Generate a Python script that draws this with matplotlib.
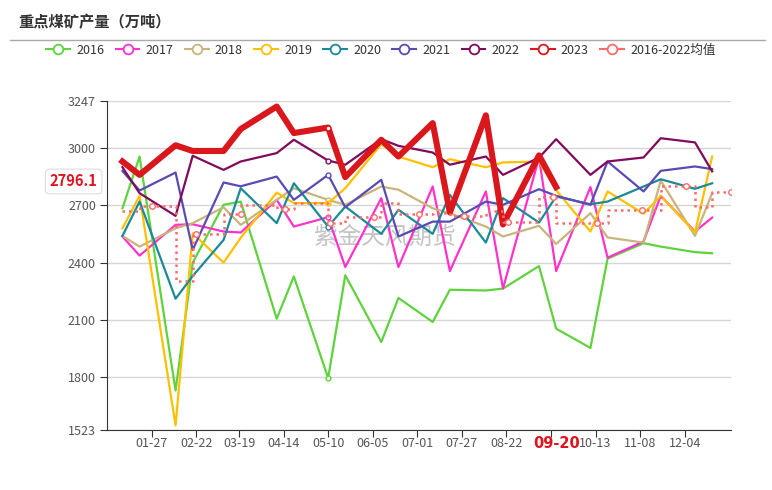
import numpy as np
import pandas as pd
import matplotlib
matplotlib.use('Agg')
import matplotlib.pyplot as plt
from matplotlib.lines import Line2D
from matplotlib.transforms import blended_transform_factory

plt.rcParams['font.family'] = ['Noto Sans CJK SC', 'DejaVu Sans']

# 数据日期（每月10日、20日）
dates = ['01-10', '01-20', '02-10', '02-20', '03-10', '03-20', '04-10', '04-20',
         '05-10', '05-20', '06-10', '06-20', '07-10', '07-20', '08-10', '08-20',
         '09-10', '09-20', '10-10', '10-20', '11-10', '11-20', '12-10', '12-20']

y2016 = [2685, 2956, 1730, 2400, 2703, 2720, 2106, 2328, 1795, 2334, 1984, 2215,
         2089, 2258, 2254, 2264, 2382, 2054, 1953, 2421, 2502, 2484, 2455, 2449]
y2017 = [2537, 2437, 2598, 2601, 2563, 2558, 2729, 2589, 2638, 2377, 2738, 2377,
         2799, 2356, 2773, 2264, 2950, 2356, 2796, 2426, 2511, 2750, 2563, 2636]
y2018 = [2540, 2484, 2580, 2607, 2690, 2598, 2729, 2790, 2729, 2703, 2799, 2782,
         2685, 2659, 2589, 2537, 2593, 2498, 2659, 2532, 2505, 2830, 2540, 2764]
y2019 = [2580, 2750, 1547, 2554, 2400, 2530, 2767, 2712, 2712, 2790, 3021, 2956,
         2900, 2942, 2900, 2925, 2930, 2780, 2563, 2773, 2656, 2750, 2558, 2956]
y2020 = [2540, 2720, 2211, 2330, 2519, 2790, 2607, 2816, 2589, 2694, 2551, 2677,
         2551, 2755, 2505, 2738, 2610, 2747, 2706, 2720, 2799, 2837, 2787, 2816]
y2021 = [2880, 2778, 2872, 2467, 2820, 2800, 2851, 2729, 2860, 2690, 2834, 2537,
         2615, 2615, 2720, 2703, 2785, 2750, 2703, 2930, 2773, 2881, 2904, 2890]
y2022 = [2900, 2764, 2645, 2960, 2886, 2930, 2974, 3044, 2935, 2913, 3047, 3012,
         2977, 2913, 2956, 2860, 2950, 3047, 2860, 2930, 2951, 3052, 3030, 2878]
y2023 = [2930, 2860, 3015, 2985, 2985, 3100, 3218, 3079, 3108, 2848, 3044, 2956,
         3131, 2663, 3172, 2600, 2962, 2796.1]

# 2016-2022均值（阶梯线），最后一点为12-31
mean_dates = dates + ['12-31']
mean_vals = [2670, 2699, 2305, 2550, 2655, 2702, 2683, 2714, 2608, 2640, 2712, 2654,
             2659, 2643, 2671, 2613, 2742, 2606, 2607, 2677, 2674, 2799, 2690, 2769, 2769]

tick_labels = ['01-27', '02-22', '03-19', '04-14', '05-10', '06-05', '07-01',
               '07-27', '08-22', '09-17', '10-13', '11-08', '12-04']
y_ticks = [1523, 1800, 2100, 2400, 2700, 3000, 3247]
pointer_date = '09-20'


def day_of_year(md):
    return np.array([pd.Timestamp('2023-' + s).dayofyear - 1 for s in md])


days = day_of_year(dates)
mean_days = day_of_year(mean_dates)
tick_days = day_of_year(tick_labels)
pointer_day = day_of_year([pointer_date])[0]

series = [
    ('2016', y2016, '#5fd33c', 1.6),
    ('2017', y2017, '#ff33cc', 1.6),
    ('2018', y2018, '#c8b47c', 1.6),
    ('2019', y2019, '#ffc000', 1.6),
    ('2020', y2020, '#1b8a98', 1.6),
    ('2021', y2021, '#5a4ab4', 1.6),
    ('2022', y2022, '#800b5c', 1.6),
    ('2023', y2023, '#d9171c', 4.4),
]
mean_color = '#ff6b6b'

fig = plt.figure(figsize=(7.72, 4.9), dpi=100)
ax = fig.add_axes([107 / 772, 60 / 490, 624 / 772, 329 / 490])

for name, vals, color, lw in series:
    ax.plot(days[:len(vals)], vals, color=color, lw=lw, marker='o', markevery=[8],
            ms=3.5, mfc='white', mec=color, mew=1, solid_joinstyle='round', zorder=3)

ax.plot(mean_days, mean_vals, drawstyle='steps-post', color=mean_color, lw=1.8,
        ls=(0, (1, 1.6)), zorder=4)
# 均值线上的空心点（每26天一个）
mark_days = np.arange(26, 365, 26)
idx = np.searchsorted(mean_days, mark_days, side='left') - 1
ax.plot(mark_days, np.array(mean_vals)[idx], 'o', ms=4, mfc='white', mec=mean_color,
        mew=1, ls='none', zorder=4)

ax.set_xlim(0, 364)
ax.set_ylim(1523, 3247)
ax.set_yticks(y_ticks)
ax.set_xticks(tick_days)
# 09-17 的标签被指示器标签盖住
ax.set_xticklabels(['' if t == '09-17' else t for t in tick_labels])
ax.tick_params(axis='both', labelsize=9, labelcolor='#555', color='#333', length=5)
ax.tick_params(axis='x', pad=0)
ax.tick_params(axis='y', pad=3)
ax.yaxis.grid(True, color='#d6d6d6', lw=1)
ax.set_axisbelow(True)
for s in ['top', 'right']:
    ax.spines[s].set_visible(False)
for s in ['left', 'bottom']:
    ax.spines[s].set_color('#333')

# 水印
ax.text(0.445, 0.585, '紫金天风期货', transform=ax.transAxes, fontsize=17,
        color='#c4c4c4', ha='center', va='center', zorder=1.5)

# 坐标轴指示器标签
ax.annotate('2796.1', xy=(0, 2796.1), xycoords=('axes fraction', 'data'),
            xytext=(-24, 4), textcoords='offset points', ha='center', va='center',
            fontsize=10.5, fontweight='bold', color='#e0141e', annotation_clip=False,
            bbox=dict(boxstyle='round,pad=0.3', fc='white', ec='#dddddd', lw=0.8))
trans = blended_transform_factory(ax.transData, ax.transAxes)
ax.text(pointer_day, -0.040, pointer_date, transform=trans,
        ha='center', va='center', fontsize=10.5, fontweight='bold', color='#e0141e',
        family='DejaVu Sans', zorder=5, clip_on=False)

# 标题与分隔线
fig.text(18 / 772, 1 - 22 / 490, '重点煤矿产量（万吨）', fontsize=11, fontweight='bold',
         color='#333', va='center', ha='left')
fig.add_artist(Line2D([10 / 772, 765 / 772], [1 - 40 / 490] * 2, color='#aaaaaa', lw=1))

# 图例
handles = [Line2D([], [], color=c, lw=1.5, marker='o', ms=7, mfc='white', mec=c, mew=1.3)
           for _, _, c, _ in series]
handles.append(Line2D([], [], color=mean_color, lw=1.5, marker='o', ms=7, mfc='white',
                      mec=mean_color, mew=1.3))
labels = [n for n, _, _, _ in series] + ['2016-2022均值']
fig.legend(handles, labels, loc='center', bbox_to_anchor=(381 / 772, 1 - 50 / 490),
           ncol=9, frameon=False, fontsize=9, handlelength=1.9, handletextpad=0.5,
           columnspacing=0.9, labelcolor='#333')

fig.savefig('out.png', dpi=100)
